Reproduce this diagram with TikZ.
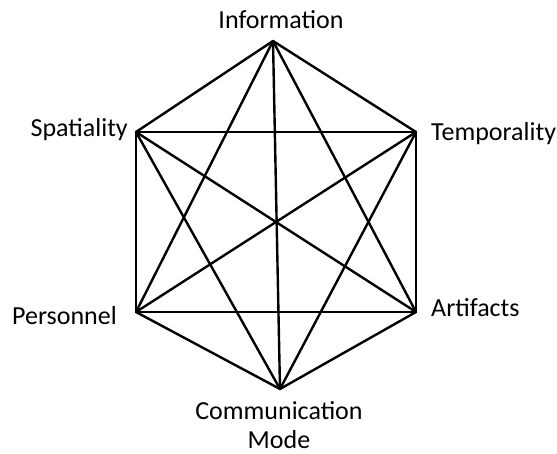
\documentclass[tikz,border=0pt]{standalone}
\usepackage{fontspec}
\setmainfont{Carlito}
\tikzset{
  edge/.style={line width=2.4pt, line join=round, line cap=round},
  lbl/.style={font=\fontsize{26}{29}\selectfont, inner sep=0pt, align=center},
}
\begin{document}
\begin{tikzpicture}[x=1pt,y=-1pt]
\useasboundingbox (0,0) rectangle (557,454);
\coordinate (I) at (273,41);
\coordinate (T) at (416,132);
\coordinate (A) at (416,312);
\coordinate (C) at (280,389);
\coordinate (P) at (136,312);
\coordinate (S) at (136,132);
\foreach \a/\b in {I/T,I/A,I/C,I/P,I/S,T/A,T/C,T/P,T/S,A/C,A/P,A/S,C/P,C/S,P/S}
  \draw[edge] (\a) -- (\b);
\node[lbl] (li) at (281,20) {Information};
\node[lbl, anchor=east] (ls) at (128,130) {Spatiality};
\node[lbl, anchor=west] (lt) at (431,134) {Temporality};
\node[lbl, anchor=east] (lp) at (117,316) {Personnel};
\node[lbl, anchor=west] (la) at (431,308) {Artifacts};
\node[lbl] (lc) at (279,425) {Communication\\Mode};
\end{tikzpicture}
\end{document}
